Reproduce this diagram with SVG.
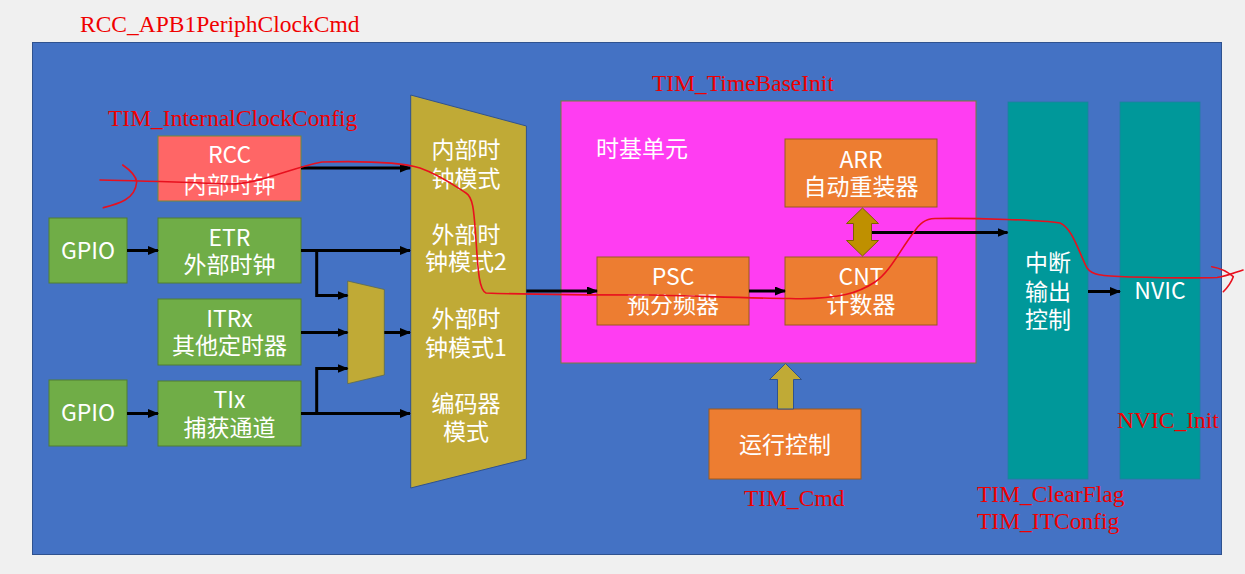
<svg xmlns="http://www.w3.org/2000/svg" width="1245" height="574" viewBox="0 0 1245 574">
<style>
.cn{font-family:"Noto Sans CJK SC","Noto Sans",sans-serif;font-size:23px;fill:#fff;text-anchor:middle}
.api{font-family:"Liberation Serif",serif;font-size:23.5px;fill:#f00000}
.grn{fill:#70ad47;stroke:#507e32;stroke-width:1}
.org{fill:#ed7d31;stroke:#9a5a20;stroke-width:1}
.teal{fill:#00989a;stroke:#1f7fa0;stroke-width:0.8}
.wire{fill:none;stroke:#000;stroke-width:3}
.red{fill:none;stroke:#e8101e;stroke-width:1.6;stroke-linecap:round;stroke-linejoin:round}
</style>
<defs>
<marker id="ah" markerUnits="userSpaceOnUse" markerWidth="11" markerHeight="9" refX="10" refY="4.5" orient="auto">
<path d="M0,0 L11,4.5 L0,9 z" fill="#000"/>
</marker>
</defs>
<rect width="1245" height="574" fill="#f0f0f0"/>
<rect id="board" x="32.5" y="42.5" width="1189" height="512" fill="#4472c4" stroke="#2f528f"/>
<text class="api" x="80" y="32">RCC_APB1PeriphClockCmd</text>

<g id="timebase">
<rect x="561" y="101" width="415" height="262" fill="#ff3df2" stroke="#7a7a3a"/>
<text class="cn" x="596" y="156.5" style="text-anchor:start">时基单元</text>
</g>
<text class="api" x="652" y="91">TIM_TimeBaseInit</text>

<g id="rcc">
<rect x="158" y="136" width="143" height="65" fill="#ff6666" stroke="#6f8a3a"/>
<text class="cn" x="229.5" y="163">RCC</text>
<text class="cn" x="229.5" y="193">内部时钟</text>
</g>
<text class="api" x="108" y="126">TIM_InternalClockConfig</text>

<g id="gpio1"><rect class="grn" x="49" y="218" width="78" height="65"/><text class="cn" x="88" y="259">GPIO</text></g>
<g id="etr"><rect class="grn" x="158" y="218" width="143" height="65"/><text class="cn" x="229.5" y="246">ETR</text><text class="cn" x="229.5" y="273">外部时钟</text></g>
<g id="itrx"><rect class="grn" x="158" y="299" width="143" height="66"/><text class="cn" x="229.5" y="326.5">ITRx</text><text class="cn" x="229.5" y="353.5">其他定时器</text></g>
<g id="gpio2"><rect class="grn" x="49" y="380" width="78" height="66"/><text class="cn" x="88" y="421">GPIO</text></g>
<g id="tix"><rect class="grn" x="158" y="381" width="143" height="65"/><text class="cn" x="229.5" y="408">TIx</text><text class="cn" x="229.5" y="436">捕获通道</text></g>

<g id="mux"><polygon points="347.7,281 384.3,289.5 384.3,375 347.7,383.7" fill="#c0aa36" stroke="#5a6a50" stroke-width="0.8"/></g>

<g id="modesel">
<polygon points="410.7,95 526.4,126 526.4,459 410.7,488" fill="#c0aa36" stroke="#2f528f" stroke-width="1"/>
<text class="cn" x="466" y="158">内部时</text>
<text class="cn" x="466" y="186.5">钟模式</text>
<text class="cn" x="466" y="243">外部时</text>
<text class="cn" x="466" y="270">钟模式2</text>
<text class="cn" x="466" y="326.5">外部时</text>
<text class="cn" x="466" y="355.5">钟模式1</text>
<text class="cn" x="466" y="412">编码器</text>
<text class="cn" x="466" y="440">模式</text>
</g>

<g id="arr"><rect class="org" x="785" y="139" width="152" height="68"/><text class="cn" x="861" y="167.5">ARR</text><text class="cn" x="861" y="195">自动重装器</text></g>
<g id="psc"><rect class="org" x="597" y="257" width="152" height="68"/><text class="cn" x="673" y="285">PSC</text><text class="cn" x="673" y="313">预分频器</text></g>
<g id="cnt"><rect class="org" x="785" y="257" width="152" height="68"/><text class="cn" x="861" y="285">CNT</text><text class="cn" x="861" y="313">计数器</text></g>

<g id="runctl"><rect class="org" x="709" y="409" width="152" height="70"/><text class="cn" x="785" y="453">运行控制</text></g>
<text class="api" x="744" y="505.5">TIM_Cmd</text>

<g id="itctl"><rect class="teal" x="1008" y="102" width="80" height="377"/>
<text class="cn" x="1048" y="270.5">中断</text><text class="cn" x="1048" y="300">输出</text><text class="cn" x="1048" y="327.5">控制</text></g>
<text class="api" x="977" y="501.5">TIM_ClearFlag</text>
<text class="api" x="977" y="529">TIM_ITConfig</text>

<g id="nvic"><rect class="teal" x="1120" y="102" width="80" height="377"/><text class="cn" x="1160" y="299">NVIC</text></g>
<text class="api" x="1117" y="428">NVIC_Init</text>

<g id="connectors">
<path class="wire" d="M301,168 H410" marker-end="url(#ah)"/>
<path class="wire" d="M127,250.5 H158" marker-end="url(#ah)"/>
<path class="wire" d="M301,250.5 H410" marker-end="url(#ah)"/>
<path class="wire" d="M316.7,250.5 V295.5 H347.5" marker-end="url(#ah)"/>
<path class="wire" d="M301,332.5 H347.5" marker-end="url(#ah)"/>
<path class="wire" d="M384.3,332.5 H410" marker-end="url(#ah)"/>
<path class="wire" d="M127,413.5 H158" marker-end="url(#ah)"/>
<path class="wire" d="M301,413.5 H410" marker-end="url(#ah)"/>
<path class="wire" d="M316.7,413.5 V368.5 H347.5" marker-end="url(#ah)"/>
<path class="wire" d="M526.4,291 H597" marker-end="url(#ah)"/>
<path class="wire" d="M749,291 H785" marker-end="url(#ah)"/>
<path class="wire" d="M871,232.5 H1007.5" marker-end="url(#ah)"/>
<path class="wire" d="M1088,291.5 H1120" marker-end="url(#ah)"/>
<polygon points="862.5,208 878.5,223.5 871.5,223.5 871.5,240.5 878.5,240.5 862.5,256 846.5,240.5 853.5,240.5 853.5,223.5 846.5,223.5" fill="#bf9000" stroke="#7f6000" stroke-width="1"/>
<polygon points="785.5,363.5 801.5,379.5 793.5,379.5 793.5,409 777.5,409 777.5,379.5 769.5,379.5" fill="#c0aa36" stroke="#2f528f" stroke-width="1"/>
</g>

<g id="annotation">
<path class="red" d="M100,180 C150,181 200,183 230,184 C260,184 290,168 322,162 C360,161 400,162 420,168 C440,175 455,186 466,193 C474,198 474,215 476,240 C478,270 479,290 486,293 C540,295 600,295 650,295 C700,296 740,298 790,298.5 C840,300 860,292 875,282 C890,272 900,250 914,232 C920,223 925,219 935,218.5 C980,218 1040,220 1060,223 C1072,228 1078,250 1087,268 C1092,275 1100,276 1130,277 C1170,278 1200,278 1217,277.5 C1228,276 1236,272 1243,270"/>
<path class="red" d="M122.7,165 C130,170 136,176 136.7,182 C136,190 132,196 125,200 C118,204 110,206 103.3,207.7"/>
<path class="red" d="M1211.7,266.7 C1220,268 1228,272 1233.3,276.7 C1231,283 1227,288 1223.3,291.7"/>
</g>
</svg>
